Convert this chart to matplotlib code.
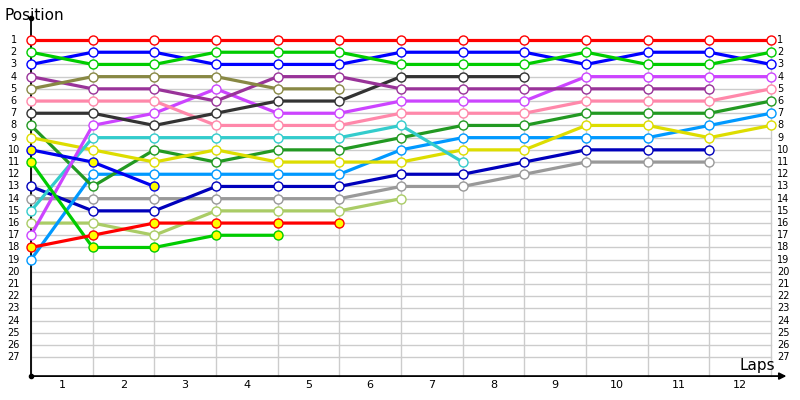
import matplotlib.pyplot as plt

laps = list(range(13))
positions = list(range(1, 28))
lap_labels = [str(i) for i in range(1, 13)]

# position of each car after every lap (index 0 = start)
red = [1, 1, 1, 1, 1, 1, 1, 1, 1, 1, 1, 1, 1]
green = [2, 3, 3, 2, 2, 2, 3, 3, 3, 2, 3, 3, 2]
blue = [3, 2, 2, 3, 3, 3, 2, 2, 2, 3, 2, 2, 3]
olive = [5, 4, 4, 4, 5, 5]
purple = [4, 5, 5, 6, 4, 4, 5, 5, 5, 5, 5, 5]
black = [7, 7, 8, 7, 6, 6, 4, 4, 4]
pink = [6, 6, 6, 8, 8, 8, 7, 7, 7, 6, 6, 6, 5]
magenta = [17, 8, 7, 5, 7, 7, 6, 6, 6, 4, 4, 4, 4]
teal = [15, 9, 9, 9, 9, 9, 8, 11]
yellow = [9, 10, 11, 10, 11, 11, 11, 10, 10, 8, 8, 9, 8]
dkgreen = [8, 13, 10, 11, 10, 10, 9, 8, 8, 7, 7, 7, 6]
ltblue = [19, 12, 12, 12, 12, 12, 10, 9, 9, 9, 9, 8, 7]
navy = [13, 15, 15, 13, 13, 13, 12, 12, 11, 10, 10, 10]
gray = [14, 14, 14, 14, 14, 14, 13, 13, 12, 11, 11, 11]
ltolive = [16, 16, 17, 15, 15, 15, 14]
blue_y = [10, 11, 13]
green_y = [11, 18, 18, 17, 17]
red_y = [18, 17, 16, 16, 16, 16]

series = [
    (gray, "#999999", "white"),
    (ltolive, "#aacc66", "white"),
    (navy, "#0000bb", "white"),
    (ltblue, "#0099ff", "white"),
    (dkgreen, "#229922", "white"),
    (yellow, "#dddd00", "white"),
    (teal, "#33cccc", "white"),
    (magenta, "#cc44ff", "white"),
    (pink, "#ff88aa", "white"),
    (black, "#333333", "white"),
    (purple, "#993399", "white"),
    (olive, "#888844", "white"),
    (blue, "#0000ff", "white"),
    (green, "#00cc00", "white"),
    (red, "#ff0000", "white"),
    (blue_y, "#0000ee", "#ffff00"),
    (green_y, "#00cc00", "#ffff00"),
    (red_y, "#ff0000", "#ffff00"),
]

fig = plt.figure(figsize=(8, 4), dpi=100)
ax = fig.add_axes([0, 0, 1, 1])
ax.set_xlim(-0.503, 12.47)
ax.set_ylim(30.5, -2.28)
ax.axis("off")

axis_y = 28.54

# grid
for p in positions:
    ax.plot([0, 12], [p, p], color="#cccccc", lw=1, zorder=1)
for x in laps:
    ax.plot([x, x], [1, axis_y], color="#cccccc", lw=1, zorder=1)

# axes with arrow
ax.annotate("", xy=(12.25, axis_y), xytext=(0, axis_y),
            arrowprops=dict(arrowstyle="-|>", color="black", lw=1.3,
                            mutation_scale=10, shrinkA=0, shrinkB=0),
            annotation_clip=False, zorder=3)
ax.plot([0, 0], [axis_y, -0.8], color="black", lw=1.3, zorder=3)
ax.plot([0, 0], [axis_y, -0.8], "o", color="black", ms=3, zorder=3)

for vals, col, face in series:
    ax.plot(laps[:len(vals)], vals, color=col, lw=2.3, marker="o", ms=6.5,
            mfc=face, mec=col, mew=1.0, zorder=4)

for p in positions:
    ax.text(-0.28, p, str(p), ha="center", va="center", fontsize=7)
    ax.text(12.1, p, str(p), ha="left", va="center", fontsize=7)

for i, lab in enumerate(lap_labels):
    ax.text(i + 0.5, 29.3, lab, ha="center", va="center", fontsize=8)

ax.text(-0.43, -1.05, "Position", ha="left", va="center", fontsize=11)
ax.text(12.07, 27.7, "Laps", ha="right", va="center", fontsize=11)

fig.savefig("out.png", dpi=100)
